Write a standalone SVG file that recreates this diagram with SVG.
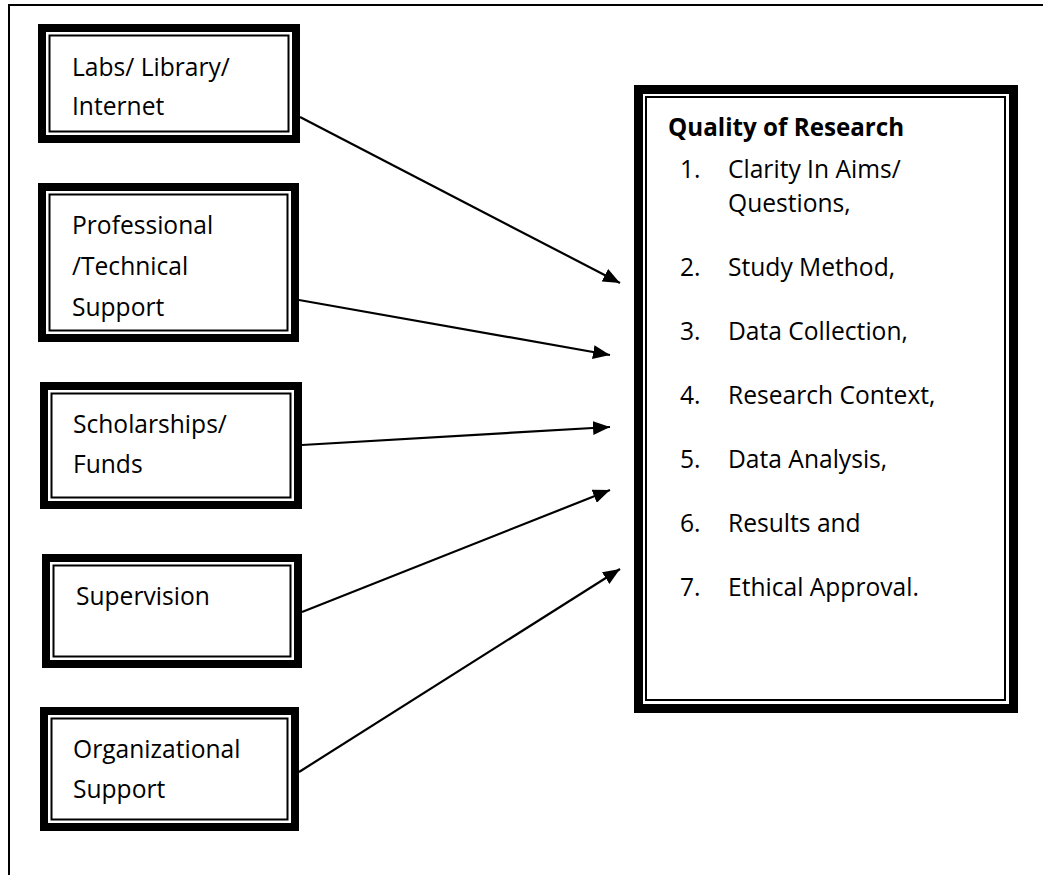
<svg xmlns="http://www.w3.org/2000/svg" width="1043" height="875" viewBox="0 0 1043 875">
<style>
.thick{fill:#fff;stroke:#000;stroke-width:8}
.thin{fill:none;stroke:#000;stroke-width:2}
.t{font-family:"Open Sans","Noto Sans",sans-serif;font-size:24.6px;fill:#000}
.b{font-weight:bold;font-size:24.2px}
.c{stroke:#000;stroke-width:2.2;fill:none;marker-end:url(#ah)}
</style>
<defs>
<marker id="ah" markerUnits="userSpaceOnUse" markerWidth="18" markerHeight="14" refX="17" refY="7" orient="auto">
<path d="M0,0 L17,7 L0,14 z" fill="#000"/>
</marker>
</defs>
<rect width="1043" height="875" fill="#fff"/>
<g id="frame">
<line x1="9" y1="5" x2="1043" y2="5" stroke="#000" stroke-width="2"/>
<line x1="9" y1="4" x2="9" y2="875" stroke="#000" stroke-width="2"/>
</g>
<g id="n1">
<rect class="thick" x="42" y="28" width="254" height="111"/>
<rect class="thin" x="49.5" y="35.5" width="239" height="96"/>
<text class="t" x="72" y="76">Labs/ Library/</text>
<text class="t" x="72" y="115">Internet</text>
</g>
<g id="n2">
<rect class="thick" x="42" y="187" width="253" height="151"/>
<rect class="thin" x="49.5" y="194.5" width="238" height="136"/>
<text class="t" x="72" y="234">Professional</text>
<text class="t" x="72" y="275">/Technical</text>
<text class="t" x="72" y="316">Support</text>
</g>
<g id="n3">
<rect class="thick" x="44" y="386" width="254" height="119"/>
<rect class="thin" x="51.5" y="393.5" width="239" height="104"/>
<text class="t" x="73" y="433">Scholarships/</text>
<text class="t" x="73" y="473">Funds</text>
</g>
<g id="n4">
<rect class="thick" x="46" y="558" width="252" height="106"/>
<rect class="thin" x="53.5" y="565.5" width="237" height="91"/>
<text class="t" x="76" y="605">Supervision</text>
</g>
<g id="n5">
<rect class="thick" x="44" y="711" width="251" height="116"/>
<rect class="thin" x="51.5" y="718.5" width="236" height="101"/>
<text class="t" x="73" y="758">Organizational</text>
<text class="t" x="73" y="798">Support</text>
</g>
<g id="quality">
<rect class="thick" x="638.5" y="89.5" width="375" height="619" style="stroke-width:9"/>
<rect class="thin" x="646" y="97" width="359" height="603"/>
<text class="t b" x="668" y="136">Quality of Research</text>
<text class="t" x="680" y="178">1.</text><text class="t" x="728" y="178">Clarity In Aims/</text>
<text class="t" x="728" y="212">Questions,</text>
<text class="t" x="680" y="276">2.</text><text class="t" x="728" y="276">Study Method,</text>
<text class="t" x="680" y="340">3.</text><text class="t" x="728" y="340">Data Collection,</text>
<text class="t" x="680" y="404">4.</text><text class="t" x="728" y="404">Research Context,</text>
<text class="t" x="680" y="468">5.</text><text class="t" x="728" y="468">Data Analysis,</text>
<text class="t" x="680" y="532">6.</text><text class="t" x="728" y="532">Results and</text>
<text class="t" x="680" y="596">7.</text><text class="t" x="728" y="596">Ethical Approval.</text>
</g>
<g id="connectors">
<line class="c" x1="300" y1="117" x2="620" y2="283"/>
<line class="c" x1="299" y1="300" x2="610" y2="355"/>
<line class="c" x1="302" y1="445" x2="610" y2="427"/>
<line class="c" x1="302" y1="612" x2="610" y2="490"/>
<line class="c" x1="299" y1="772" x2="620" y2="569"/>
</g>
</svg>
